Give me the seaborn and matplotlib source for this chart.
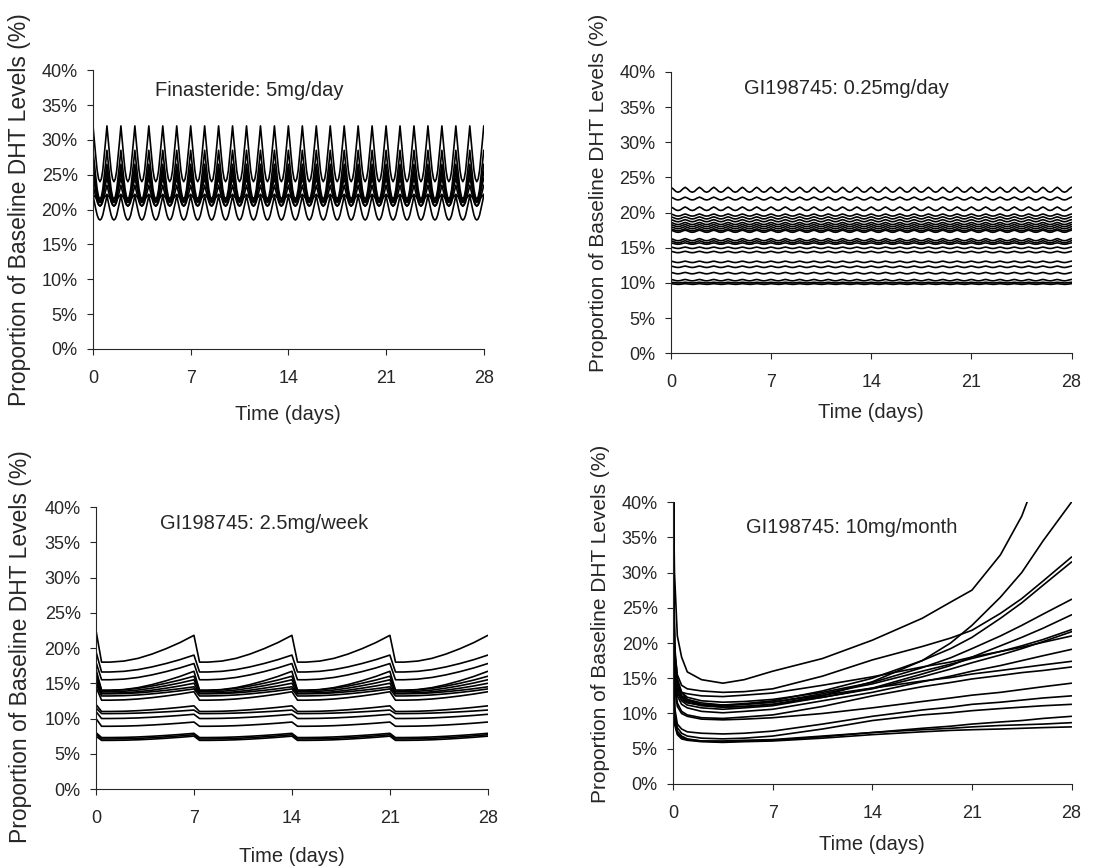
import numpy as np
import pandas as pd
import matplotlib
matplotlib.use("Agg")
import matplotlib.pyplot as plt
from matplotlib.ticker import FuncFormatter
import seaborn as sns

# Finasteride 5 mg/day: level just before each daily dose (peak) and lowest level (trough)
fin_peak = [32.0, 28.5, 26.5, 25.5, 24.5, 23.5, 22.2, 22.0]
fin_trough = [24.0, 21.5, 21.0, 20.5, 21.5, 20.5, 21.3, 18.5]
# shape of one daily cycle (0 = trough, 1 = peak)
fin_phase = [0.0, 0.1, 0.2, 0.3, 0.4, 0.5, 0.6, 0.7, 0.8, 0.9, 1.0]
fin_shape = [1.0, 0.72, 0.45, 0.2, 0.05, 0.0, 0.05, 0.2, 0.45, 0.72, 1.0]

# GI198745 0.25 mg/day
gd_peak = [23.6, 22.2, 20.8, 19.8, 19.4, 19.0, 18.6, 18.3, 18.0, 17.7, 17.5,
           16.3, 16.0, 15.7, 15.1, 14.5, 13.1, 12.4, 11.5, 10.5, 10.1, 9.9]
gd_trough = [22.9, 21.8, 20.3, 19.5, 19.1, 18.7, 18.3, 18.0, 17.7, 17.4, 17.2,
             16.0, 15.7, 15.5, 14.9, 14.3, 12.9, 12.2, 11.3, 10.3, 10.0, 9.8]
gd_phase = [0.0, 0.15, 0.35, 0.5, 0.65, 0.85, 1.0]
gd_shape = [1.0, 0.7, 0.15, 0.0, 0.15, 0.7, 1.0]

# GI198745 2.5 mg/week
wk_start = [22.5, 19.5, 18.0, 17.0, 16.5, 16.0, 15.5, 15.0, 15.0, 14.5,
            12.0, 11.5, 11.0, 10.0, 8.0, 7.8, 7.5]
wk_trough = [18.0, 16.6, 15.5, 14.0, 14.0, 13.8, 13.6, 13.5, 13.2, 12.6,
             11.0, 10.7, 10.0, 8.9, 7.3, 7.1, 6.9]
wk_peak = [21.8, 19.0, 17.8, 16.7, 16.0, 15.5, 15.0, 14.5, 14.2, 13.8,
           11.8, 11.2, 10.6, 9.5, 7.9, 7.7, 7.5]
wk_phase = [0.0, 0.4, 1.0, 2.0, 3.0, 4.0, 5.0, 6.0, 7.0]
wk_shape = [1.0, 0.0, 0.0, 0.04, 0.14, 0.3, 0.5, 0.73, 1.0]

# GI198745 10 mg/month (single dose at day 0)
mo_days = [0, 0.1, 0.3, 0.6, 1, 2, 3.5, 5, 7, 10.5, 14, 17.5, 19.5, 21, 23, 24.5, 26, 28]
mo_levels = [
    [45, 30, 21, 18, 15.9, 14.8, 14.3, 14.8, 16.0, 17.8, 20.4, 23.5, 25.8, 27.5, 32.5, 38, 46, 55],
    [45, 20, 15, 13, 12, 11.2, 10.9, 11.0, 11.3, 12.5, 14.5, 17.5, 20, 22.5, 26.5, 30, 34.5, 40],
    [45, 19, 15.5, 14, 13.5, 13.2, 13.0, 13.1, 13.5, 15.3, 17.6, 19.5, 20.7, 21.8, 24.2, 26.3, 28.8, 32.2],
    [45, 18, 14, 12.5, 12, 11.5, 11.2, 11.4, 11.8, 13.2, 15, 17.5, 19.2, 20.8, 23.5, 25.7, 28.2, 31.5],
    [45, 18, 14.5, 13, 12.3, 11.8, 11.6, 11.7, 12.0, 13.0, 14.4, 16.5, 17.9, 19.2, 21.0, 22.5, 24.1, 26.2],
    [45, 17, 13.5, 12.3, 11.6, 11.1, 10.9, 11.0, 11.3, 12.3, 13.6, 15.6, 16.8, 18.0, 19.6, 20.8, 22.1, 24.0],
    [45, 17, 13.8, 12.5, 11.8, 11.3, 11.2, 11.3, 11.6, 12.8, 14.2, 16.0, 17.0, 17.8, 18.8, 19.6, 20.5, 21.9],
    [45, 16, 13, 11.8, 11.2, 10.8, 10.6, 10.8, 11.1, 12.3, 13.5, 15.2, 16.3, 17.2, 18.3, 19.2, 20.2, 21.6],
    [45, 17, 14, 13, 12.8, 12.5, 12.4, 12.6, 12.9, 14.0, 15.2, 16.6, 17.3, 18.0, 18.8, 19.4, 20.1, 21.0],
    [45, 15.5, 12.5, 11.3, 10.8, 10.3, 10.1, 10.3, 10.6, 11.8, 13.0, 14.5, 15.3, 16.0, 16.8, 17.5, 18.2, 19.1],
    [45, 16, 13, 12, 11.5, 11.2, 11.1, 11.3, 11.6, 12.6, 13.6, 14.6, 15.1, 15.6, 16.1, 16.5, 16.9, 17.4],
    [45, 14.5, 11.5, 10.3, 9.8, 9.4, 9.3, 9.5, 9.8, 11.0, 12.5, 13.8, 14.4, 14.9, 15.4, 15.8, 16.1, 16.6],
    [45, 14, 11, 10, 9.6, 9.2, 9.1, 9.2, 9.4, 10.0, 10.8, 11.7, 12.2, 12.6, 13.0, 13.4, 13.8, 14.3],
    [45, 11, 8.5, 7.8, 7.4, 7.2, 7.1, 7.2, 7.5, 8.5, 9.6, 10.5, 10.9, 11.3, 11.6, 11.9, 12.2, 12.5],
    [45, 10, 8, 7.2, 6.8, 6.5, 6.4, 6.5, 6.8, 7.8, 9.0, 9.8, 10.1, 10.4, 10.7, 10.9, 11.1, 11.3],
    [45, 9.5, 7.5, 6.8, 6.4, 6.1, 6.0, 6.1, 6.2, 6.7, 7.3, 7.9, 8.2, 8.5, 8.8, 9.0, 9.3, 9.6],
    [45, 9, 7.2, 6.6, 6.3, 6.1, 6.1, 6.2, 6.3, 6.8, 7.3, 7.7, 7.9, 8.1, 8.3, 8.4, 8.5, 8.7],
    [45, 8.5, 7, 6.4, 6.2, 6.0, 5.9, 6.0, 6.1, 6.5, 7.0, 7.4, 7.6, 7.7, 7.8, 7.9, 8.0, 8.1],
]

titles = ["Finasteride: 5mg/day", "GI198745: 0.25mg/day",
          "GI198745: 2.5mg/week", "GI198745: 10mg/month"]
x_ticks = [0, 7, 14, 21, 28]
y_ticks = [0, 5, 10, 15, 20, 25, 30, 35, 40]


def repeat_dose(period, n, phase, shape, low, high, first=None):
    # one dosing cycle, repeated for every dose
    ts, vs = [], []
    for k in range(n):
        for j, (p, f) in enumerate(zip(phase, shape)):
            if j == len(phase) - 1 and k < n - 1:
                continue
            v = low + (high - low) * f
            if k == 0 and j == 0 and first is not None:
                v = first
            ts.append(k * period + p)
            vs.append(v)
    return ts, vs


rows = []
for i, (hi, lo) in enumerate(zip(fin_peak, fin_trough)):
    t, v = repeat_dose(1, 28, fin_phase, fin_shape, lo, hi)
    rows += [(0, i, a, b) for a, b in zip(t, v)]
for i, (hi, lo) in enumerate(zip(gd_peak, gd_trough)):
    t, v = repeat_dose(1, 28, gd_phase, gd_shape, lo, hi)
    rows += [(1, i, a, b) for a, b in zip(t, v)]
for i, (s, lo, hi) in enumerate(zip(wk_start, wk_trough, wk_peak)):
    t, v = repeat_dose(7, 4, wk_phase, wk_shape, lo, hi, first=s)
    rows += [(2, i, a, b) for a, b in zip(t, v)]
for i, lev in enumerate(mo_levels):
    rows += [(3, i, a, b) for a, b in zip(mo_days, lev)]
df = pd.DataFrame(rows, columns=["panel", "subject", "day", "dht"])

sns.set_style("ticks")
plt.rcParams["font.family"] = ["Liberation Sans", "DejaVu Sans"]

fig = plt.figure(figsize=(11.07, 8.66), dpi=100)
boxes = [[0.084, 0.597, 0.353, 0.322],
         [0.606, 0.592, 0.362, 0.325],
         [0.0867, 0.0889, 0.354, 0.3256],
         [0.608, 0.0947, 0.360, 0.3256]]
title_pos = [(0.40, 0.928), (0.437, 0.94), (0.43, 0.943), (0.449, 0.908)]
ylab_pos = [(-0.158, 0.5), (-0.157, 0.571), (-0.163, 0.505), (-0.158, 0.569)]
ylab_size = [16.5, 15, 16.5, 15]
xlab_y = [-0.20, -0.178, -0.206, -0.181]

for p in range(4):
    ax = fig.add_axes(boxes[p])
    sns.lineplot(data=df[df.panel == p], x="day", y="dht", units="subject",
                 estimator=None, color="black", lw=1.2, ax=ax)
    ax.set_xlim(0, 28)
    ax.set_ylim(0, 40)
    ax.set_xticks(x_ticks)
    ax.set_yticks(y_ticks)
    ax.yaxis.set_major_formatter(FuncFormatter(lambda v, _: f"{v:.0f}%"))
    ax.tick_params(direction="out", length=4, width=0.8, labelsize=13)
    ax.tick_params(axis="x", pad=11)
    ax.tick_params(axis="y", pad=7)
    for s in ["left", "bottom"]:
        ax.spines[s].set_linewidth(0.8)
    sns.despine(ax=ax)
    ax.set_xlabel("Time (days)", fontsize=14.5)
    ax.set_ylabel("Proportion of Baseline DHT Levels (%)", fontsize=ylab_size[p])
    ax.yaxis.set_label_coords(*ylab_pos[p])
    ax.xaxis.set_label_coords(0.5, xlab_y[p])
    ax.text(title_pos[p][0], title_pos[p][1], titles[p], transform=ax.transAxes,
            ha="center", va="center", fontsize=14.5)

fig.savefig("out.png", dpi=100)
